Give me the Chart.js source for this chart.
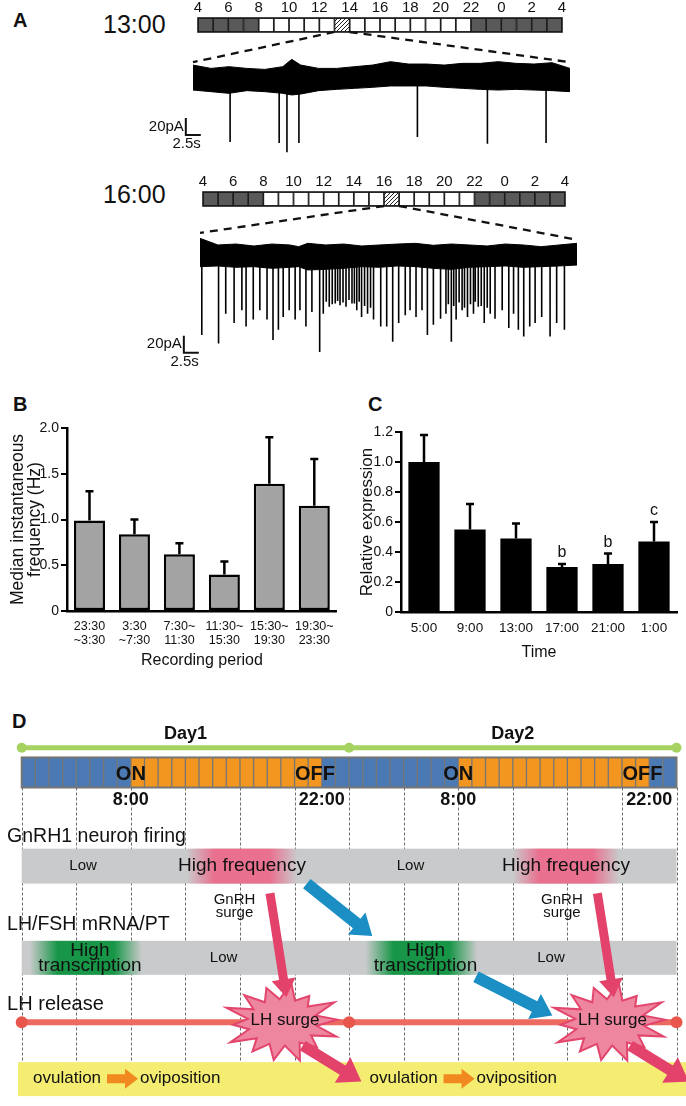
<!DOCTYPE html>
<html>
<head>
<meta charset="utf-8">
<script src="https://cdn.jsdelivr.net/npm/chart.js@4.4.1/dist/chart.umd.min.js"></script>
<style>
  body { margin: 0; background: #fff; }
  #page { position: relative; width: 686px; height: 1106px; overflow: hidden; background: #fff;
          font-family: 'Liberation Sans', Arial, sans-serif; color: #111; }
  canvas { position: absolute; }
  .panel { position: absolute; font-weight: bold; font-size: 20px; line-height: 20px; }
  .rec { position: absolute; font-size: 25px; line-height: 25px; }
</style>
</head>
<body>
<div id="page">
  <div class="panel" style="left:13px;top:10px">A</div>
  <div class="rec" style="left:103px;top:12px">13:00</div>
  <div class="rec" style="left:103px;top:182px">16:00</div>
  <div class="panel" style="left:13px;top:394px">B</div>
  <div class="panel" style="left:368px;top:394px">C</div>
  <div class="panel" style="left:12px;top:711px">D</div>

  <canvas id="tl1" width="384" height="33" style="left:188px;top:0px"></canvas>
  <canvas id="tr1" width="450" height="134" style="left:140px;top:30px"></canvas>
  <canvas id="tl2" width="382" height="33" style="left:193px;top:174px"></canvas>
  <canvas id="tr2" width="450" height="162" style="left:140px;top:205px"></canvas>
  <canvas id="chartB" width="343" height="300" style="left:0px;top:390px"></canvas>
  <canvas id="chartC" width="343" height="300" style="left:343px;top:390px"></canvas>
  <canvas id="chartD" width="686" height="406" style="left:0px;top:700px"></canvas>
</div>

<script>
/*
 * 1. DATA
 */
// A: 24 h light schedule bars (one cell per hour, starting at 4:00)
const dayStartHour = 4;
const barTickLabels = ['4', '6', '8', '10', '12', '14', '16', '18', '20', '22', '0', '2', '4'];
const lightsOn = 8;
const lightsOff = 22;
const recordingHours = [13, 16];

// A: current traces (time in s, current in pA relative to baseline)
const envT = [0, 3, 6, 9, 12, 15, 16.5, 18, 21, 24, 27, 30, 33, 36, 39, 42, 45, 48, 51, 54, 57, 60, 63];
const trace1Upper = [17.6, 13.7, 15.7, 13.7, 12.5, 15.7, 24.3, 17.6, 13.7, 13.7, 15.7, 17.6, 21.6, 18.8, 18.8, 17.6, 19.6, 19.6, 21.6, 19.6, 18.8, 20.4, 13.7];
const trace1Lower = [-11.8, -13.7, -15.7, -12.5, -13.7, -15.7, -17.6, -16.5, -12.5, -11, -9.8, -8.6, -7, -7, -7, -8.6, -9.8, -11, -11.8, -11, -11.8, -12.5, -13.7];
const trace1SpikeT = [6.2, 14.4, 15.7, 17.7, 37.5, 49.2, 59.0];
const trace1SpikeAmp = [73, 74, 85, 74, 67, 75, 74];

const trace2Upper = [19.6, 11.8, 12.9, 10.6, 12.9, 11.8, 9.8, 13.7, 11.8, 12.9, 10.6, 11.8, 12.9, 13.7, 11.4, 12.9, 11.8, 10.6, 12.9, 11.8, 9.8, 11.8, 13.7];
const trace2Lower = [-13.7, -12.9, -14.5, -13.7, -15.7, -14.5, -13.7, -17.6, -16.9, -15.7, -13.7, -14.5, -12.9, -13.7, -15.7, -16.9, -14.5, -13.7, -12.9, -14.5, -13.7, -12.9, -11.8];
const trace2SpikeT = [0.3, 3.1, 4.3, 5.7, 7.0, 7.7, 8.9, 10.0, 11.2, 12.2, 13.1, 13.9, 14.9, 15.9, 16.7, 17.7, 18.7, 20.0, 20.6, 21.6,
  22.6, 23.4, 24.4, 25.4, 26.2, 27.0, 28.0, 29.0, 30.2, 31.2, 32.2, 33.2, 34.3, 35.1, 36.1, 37.1, 38.0, 39.0, 40.2, 41.1,
  42.0, 42.8, 43.8, 44.7, 45.7, 46.5, 47.5, 48.5, 49.3, 50.5, 51.6, 52.4, 53.2, 54.1, 55.1, 56.0, 57.1, 58.5, 59.6, 60.9,
  21.1, 22.1, 23.0, 23.9, 24.9, 25.8, 26.6, 27.5, 28.5, 41.5, 42.4, 43.3, 44.2, 45.2, 46.0, 47.0, 48.0];
const trace2SpikeAmp = [94, 104, 69, 80, 65, 84, 76, 65, 76, 100, 88, 73, 65, 76, 65, 84, 67, 114, 69, 61,
  57, 59, 61, 57, 65, 73, 69, 76, 84, 84, 102, 80, 71, 65, 73, 65, 94, 82, 75, 69,
  102, 76, 65, 73, 69, 61, 80, 69, 75, 65, 86, 69, 88, 96, 84, 80, 73, 96, 80, 88,
  55, 58, 54, 56, 53, 57, 55, 60, 62, 58, 60, 56, 62, 58, 55, 60, 62];

// B: firing frequency
const periodLabels = [['23:30', '~3:30'], ['3:30', '~7:30'], ['7:30~', '11:30'], ['11:30~', '15:30'], ['15:30~', '19:30'], ['19:30~', '23:30']];
const freqMean = [0.99, 0.84, 0.62, 0.40, 1.39, 1.15];
const freqErr = [0.32, 0.16, 0.12, 0.14, 0.51, 0.51];

// C: relative expression
const timeLabels = ['5:00', '9:00', '13:00', '17:00', '21:00', '1:00'];
const exprMean = [1.0, 0.55, 0.49, 0.30, 0.32, 0.47];
const exprErr = [0.18, 0.17, 0.10, 0.02, 0.07, 0.13];
const exprMarks = ['', '', '', 'b', 'b', 'c'];

// D: two-day schematic (hours from 0:00 of Day1)
const dayBounds = [0, 24, 48];
const dayNames = ['Day1', 'Day2'];
const clockHours = [8, 22, 32, 46];
const clockLabels = ['8:00', '22:00', '8:00', '22:00'];
const firingHigh = [[12.1, 20.2], [36.0, 43.8]];
const transcriptionHigh = [[0.6, 8.8], [25.2, 33.4]];
const lhSurgeHours = [19.1, 43.1];

/*
 * 2. COMMON SETTINGS
 */
const SANS = "'Liberation Sans', Arial, sans-serif";
Chart.defaults.animation = false;
Chart.defaults.responsive = false;
Chart.defaults.font.family = SANS;
Chart.defaults.color = '#111';
Chart.defaults.plugins.legend.display = false;
Chart.defaults.plugins.tooltip.enabled = false;

/*
 * 3. PANEL A
 */
function hatchPattern(ctx) {
  const c = document.createElement('canvas');
  c.width = 4; c.height = 4;
  const g = c.getContext('2d');
  g.fillStyle = '#fff';
  g.fillRect(0, 0, 4, 4);
  g.strokeStyle = '#222';
  g.lineWidth = 1;
  g.beginPath();
  g.moveTo(-1, 5); g.lineTo(5, -1);
  g.stroke();
  return ctx.createPattern(c, 'repeat');
}

const outlinePlugin = {
  id: 'outline',
  afterDatasetsDraw(chart) {
    const { ctx, chartArea: a } = chart;
    ctx.save();
    ctx.strokeStyle = '#1a1a1a';
    ctx.lineWidth = 1.6;
    ctx.strokeRect(a.left, a.top, a.right - a.left, a.bottom - a.top);
    ctx.restore();
  }
};

function makeTimeline(id, recHour) {
  const canvas = document.getElementById(id);
  const pattern = hatchPattern(canvas.getContext('2d'));
  const datasets = [];
  for (let i = 0; i < 24; i++) {
    const h = (dayStartHour + i) % 24;
    let fill = (h >= lightsOn && h < lightsOff) ? '#ffffff' : '#595959';
    if (h === recHour) fill = pattern;
    datasets.push({ data: [1], backgroundColor: fill, borderColor: '#1e1e1e', borderWidth: 1.2, borderSkipped: false });
  }
  return new Chart(canvas, {
    type: 'bar',
    data: { labels: [''], datasets },
    options: {
      indexAxis: 'y',
      layout: { padding: { left: 10, right: 10, top: 0, bottom: 1 } },
      datasets: { bar: { barPercentage: 1, categoryPercentage: 1 } },
      scales: {
        x: {
          stacked: true, min: 0, max: 24, position: 'top',
          grid: { display: false, drawTicks: false }, border: { display: false },
          ticks: { stepSize: 2, autoSkip: false, maxRotation: 0, padding: 1, font: { size: 15 },
                   callback: v => barTickLabels[v / 2] },
          afterFit: s => { s.height = 18; }
        },
        y: { stacked: true, display: false }
      }
    },
    plugins: [outlinePlugin]
  });
}

// dashed zoom lines + scale bars
const traceDecoPlugin = {
  id: 'traceDeco',
  afterDraw(chart, args, o) {
    const { ctx, chartArea: a, scales: { x, y } } = chart;
    const tl = o.timeline;
    const dx = tl.canvas.offsetLeft - chart.canvas.offsetLeft;
    const dy = tl.canvas.offsetTop + tl.chartArea.bottom - chart.canvas.offsetTop;
    const cell = (o.recHour - dayStartHour + 24) % 24;
    ctx.save();
    ctx.strokeStyle = '#111';
    ctx.lineWidth = 2.3;
    ctx.setLineDash([8, 6]);
    ctx.beginPath();
    ctx.moveTo(tl.scales.x.getPixelForValue(cell) + dx, dy);
    ctx.lineTo(a.left, y.getPixelForValue(o.dashEnd[0]));
    ctx.moveTo(tl.scales.x.getPixelForValue(cell + 1) + dx, dy);
    ctx.lineTo(a.right, y.getPixelForValue(o.dashEnd[1]));
    ctx.stroke();
    ctx.setLineDash([]);
    // 20 pA / 2.5 s scale bar
    const sx = x.getPixelForValue(o.barT), ex = x.getPixelForValue(o.barT + 2.5);
    const y0 = y.getPixelForValue(o.barPA), y1 = y.getPixelForValue(o.barPA + 20);
    ctx.lineWidth = 2;
    ctx.beginPath();
    ctx.moveTo(sx, y1); ctx.lineTo(sx, y0); ctx.lineTo(ex, y0);
    ctx.stroke();
    ctx.fillStyle = '#111';
    ctx.font = '15px ' + SANS;
    ctx.textAlign = 'right';
    ctx.textBaseline = 'middle';
    ctx.fillText('20pA', sx - 2, (y0 + y1) / 2);
    ctx.fillText('2.5s', ex, y0 + 9);
    ctx.restore();
  }
};

function makeTrace(id, upper, lower, spikeT, spikeAmp, yRange, padding, deco) {
  const spikes = [];
  spikeT.forEach((t, i) => {
    spikes.push({ x: t, y: 0 }, { x: t, y: -spikeAmp[i] }, { x: t, y: null });
  });
  return new Chart(document.getElementById(id), {
    type: 'line',
    data: {
      datasets: [
        { data: envT.map((t, i) => ({ x: t, y: upper[i] })), borderColor: '#000', borderWidth: 1,
          backgroundColor: '#000', fill: '+1', pointRadius: 0, tension: 0 },
        { data: envT.map((t, i) => ({ x: t, y: lower[i] })), borderColor: '#000', borderWidth: 1,
          fill: false, pointRadius: 0, tension: 0 },
        { data: spikes, borderColor: '#000', borderWidth: 1.6, pointRadius: 0, spanGaps: false, fill: false }
      ]
    },
    options: {
      layout: { padding },
      scales: {
        x: { type: 'linear', min: 0, max: 63, display: false },
        y: { min: yRange[0], max: yRange[1], display: false }
      },
      plugins: { traceDeco: deco }
    },
    plugins: [traceDecoPlugin]
  });
}

const tl1 = makeTimeline('tl1', recordingHours[0]);
const tl2 = makeTimeline('tl2', recordingHours[1]);
makeTrace('tr1', trace1Upper, trace1Lower, trace1SpikeT, trace1SpikeAmp, [-96.5, 47.1],
  { left: 53, right: 20, top: 10, bottom: 2 },
  { timeline: tl1, recHour: recordingHours[0], dashEnd: [21, 21], barT: -1.2, barPA: -64.7 });
makeTrace('tr2', trace2Upper, trace2Lower, trace2SpikeT, trace2SpikeAmp, [-125.9, 35.3],
  { left: 60, right: 13, top: 20, bottom: 5 },
  { timeline: tl2, recHour: recordingHours[1], dashEnd: [26, 18], barT: -2.7, barPA: -115 });

/*
 * 4. PANELS B AND C
 */
const errorBarPlugin = {
  id: 'errorBars',
  afterDatasetsDraw(chart) {
    const { ctx, scales: { y } } = chart;
    const ds = chart.data.datasets[0];
    const meta = chart.getDatasetMeta(0);
    ctx.save();
    ctx.strokeStyle = '#000';
    ctx.lineWidth = 2.5;
    ctx.fillStyle = '#111';
    ctx.font = '16px ' + SANS;
    ctx.textAlign = 'center';
    ctx.textBaseline = 'middle';
    ds.data.forEach((v, i) => {
      const bx = meta.data[i].x;
      const base = y.getPixelForValue(v);
      const top = y.getPixelForValue(v + ds.errors[i]);
      ctx.beginPath();
      ctx.moveTo(bx, base); ctx.lineTo(bx, top);
      ctx.moveTo(bx - 4, top); ctx.lineTo(bx + 4, top);
      ctx.stroke();
      if (ds.marks && ds.marks[i]) ctx.fillText(ds.marks[i], bx, top - 11);
    });
    ctx.restore();
  }
};

function barOptions(o) {
  return {
    layout: { padding: o.padding },
    datasets: { bar: { barPercentage: o.barPct, categoryPercentage: 1 } },
    scales: {
      x: {
        grid: { display: false, drawTicks: false },
        border: { color: '#000', width: 2.5 },
        ticks: { autoSkip: false, maxRotation: 0, padding: o.tickPad, font: { size: o.xFont, lineHeight: 1.1 } },
        title: { display: true, text: o.xTitle, font: { size: 16 }, padding: { top: 0, bottom: o.xTitlePad } },
        afterFit: s => { s.height = o.xHeight; }
      },
      y: {
        min: 0, max: o.yMax,
        grid: { display: true, drawOnChartArea: false, drawTicks: true, tickLength: 6, color: '#000', lineWidth: 2 },
        border: { color: '#000', width: 2.5 },
        ticks: { stepSize: o.yStep, padding: 2, font: { size: 14 },
                 callback: v => v === 0 ? '0' : v.toFixed(1) },
        title: { display: true, text: o.yTitle, font: { size: o.yTitleSize, lineHeight: o.yTitleLH },
                 padding: { top: o.yTitlePad, bottom: 0 } },
        afterFit: s => { s.width = o.yWidth; }
      }
    }
  };
}

new Chart(document.getElementById('chartB'), {
  type: 'bar',
  data: {
    labels: periodLabels,
    datasets: [{ data: freqMean, errors: freqErr, backgroundColor: '#a3a3a3', borderColor: '#000',
                 borderWidth: 2.5, borderSkipped: false }]
  },
  options: barOptions({
    padding: { left: 0, right: 5, top: 38, bottom: 0 }, barPct: 0.69,
    xTitle: 'Recording period', xTitlePad: 20, xHeight: 79, xFont: 12.5, tickPad: 9,
    yMax: 2, yStep: 0.5, yTitle: ['Median instantaneous', 'frequency (Hz)'], yTitleSize: 17.5, yTitleLH: 0.95,
    yTitlePad: 10, yWidth: 67
  }),
  plugins: [errorBarPlugin]
});

new Chart(document.getElementById('chartC'), {
  type: 'bar',
  data: {
    labels: timeLabels,
    datasets: [{ data: exprMean, errors: exprErr, marks: exprMarks, backgroundColor: '#000', borderWidth: 0 }]
  },
  options: barOptions({
    padding: { left: 0, right: 9, top: 42, bottom: 0 }, barPct: 0.68,
    xTitle: 'Time', xTitlePad: 28, xHeight: 78, xFont: 13.5, tickPad: 9,
    yMax: 1.2, yStep: 0.2, yTitle: 'Relative expression', yTitleSize: 17, yTitleLH: 1.2, yTitlePad: 14, yWidth: 58
  }),
  plugins: [errorBarPlugin]
});

/*
 * 5. PANEL D (schematic on an hour scale)
 */
// vertical layout rows (canvas px through the y scale)
const ROW = { dayText: 29, day: 43, barTop: 53, barBot: 84, clock: 97, firing: 135, band1: [147, 183],
              surge: [200, 213], mrna: 225, band2: [242, 277], lhText: 308, lh: 326, yellow: [367, 402], ovul: 384 };
const BLUE = '#4b79b3', ORANGE = '#f2961f', GREY = '#c9cacb';

function txt(ctx, s, x, y, font, align) {
  ctx.font = font + ' ' + SANS;
  ctx.textAlign = align || 'center';
  ctx.textBaseline = 'middle';
  ctx.fillStyle = '#111';
  ctx.fillText(s, x, y);
}

function glow(ctx, x0, x1, y0, y1, rgb) {
  const g = ctx.createLinearGradient(x0, 0, x1, 0);
  g.addColorStop(0, 'rgba(' + rgb + ',0)');
  g.addColorStop(0.25, 'rgba(' + rgb + ',1)');
  g.addColorStop(0.75, 'rgba(' + rgb + ',1)');
  g.addColorStop(1, 'rgba(' + rgb + ',0)');
  ctx.fillStyle = g;
  ctx.fillRect(x0, y0, x1 - x0, y1 - y0);
}

function arrow(ctx, x0, y0, x1, y1, w, headW, headL, color) {
  const ang = Math.atan2(y1 - y0, x1 - x0);
  const len = Math.hypot(x1 - x0, y1 - y0);
  ctx.save();
  ctx.translate(x0, y0);
  ctx.rotate(ang);
  ctx.fillStyle = color;
  ctx.beginPath();
  ctx.moveTo(0, -w / 2);
  ctx.lineTo(len - headL, -w / 2);
  ctx.lineTo(len - headL, -headW / 2);
  ctx.lineTo(len, 0);
  ctx.lineTo(len - headL, headW / 2);
  ctx.lineTo(len - headL, w / 2);
  ctx.lineTo(0, w / 2);
  ctx.closePath();
  ctx.fill();
  ctx.restore();
}

const starShape = [1, 0.8, 1, 0.92, 0.97, 0.85, 1, 0.95, 0.88, 1, 0.82, 1, 0.93, 0.9];
function star(ctx, cx, cy, rx, ry) {
  const n = starShape.length;
  ctx.beginPath();
  for (let i = 0; i < 2 * n; i++) {
    const a = -Math.PI / 2 + 0.15 + i * Math.PI / n;
    const r = i % 2 ? 0.58 : starShape[i / 2];
    ctx.lineTo(cx + Math.cos(a) * rx * r, cy + Math.sin(a) * ry * r);
  }
  ctx.closePath();
  ctx.fillStyle = '#ef86a0';
  ctx.fill();
  ctx.strokeStyle = '#e2466d';
  ctx.lineWidth = 2;
  ctx.stroke();
}

const schematicPlugin = {
  id: 'schematic',
  beforeDatasetsDraw(chart) {
    const { ctx, scales: { x, y } } = chart;
    const X = h => x.getPixelForValue(h), Y = r => y.getPixelForValue(r);
    ctx.save();
    // day titles
    dayNames.forEach((d, i) => txt(ctx, d, X((dayBounds[i] + dayBounds[i + 1]) / 2), Y(ROW.dayText), 'bold 18px'));
    // dashed guides every 4 h
    ctx.strokeStyle = '#6b6b6b';
    ctx.lineWidth = 1;
    ctx.setLineDash([3, 2]);
    for (let h = 0; h <= 48; h += 4) {
      ctx.beginPath();
      ctx.moveTo(Math.round(X(h)) + 0.5, Y(ROW.barBot));
      ctx.lineTo(Math.round(X(h)) + 0.5, Y(ROW.yellow[0]));
      ctx.stroke();
    }
    ctx.setLineDash([]);
    // light schedule bar, one cell per hour
    for (let h = 0; h < 48; h++) {
      const hh = h % 24;
      ctx.fillStyle = (hh >= lightsOn && hh < lightsOff) ? ORANGE : BLUE;
      ctx.fillRect(X(h), Y(ROW.barTop), X(h + 1) - X(h), Y(ROW.barBot) - Y(ROW.barTop));
    }
    ctx.strokeStyle = '#767676';
    ctx.lineWidth = 1.3;
    ctx.beginPath();
    for (let h = 1; h < 48; h++) {
      ctx.moveTo(X(h), Y(ROW.barTop));
      ctx.lineTo(X(h), Y(ROW.barBot));
    }
    ctx.stroke();
    ctx.lineWidth = 2;
    ctx.strokeRect(X(0), Y(ROW.barTop), X(48) - X(0), Y(ROW.barBot) - Y(ROW.barTop));
    const mid = (Y(ROW.barTop) + Y(ROW.barBot)) / 2 + 2;
    [0, 24].forEach(d => {
      txt(ctx, 'ON', X(d + lightsOn), mid, 'bold 20px');
      txt(ctx, 'OFF', X(d + lightsOff - 0.5), mid, 'bold 20px');
    });
    clockHours.forEach((h, i) => txt(ctx, clockLabels[i], X(h), Y(ROW.clock), 'bold 18px'));
    // row titles
    txt(ctx, 'GnRH1 neuron firing', X(-1.07), Y(ROW.firing), '19.5px', 'left');
    txt(ctx, 'LH/FSH mRNA/PT', X(-1.07), Y(ROW.mrna), '19.5px', 'left');
    txt(ctx, 'LH release', X(-1.07), Y(ROW.lhText), '20px', 'left');
    // grey bands with highlighted periods
    [ROW.band1, ROW.band2].forEach(b => {
      ctx.fillStyle = GREY;
      ctx.fillRect(X(0), Y(b[0]), X(48) - X(0), Y(b[1]) - Y(b[0]));
    });
    firingHigh.forEach(s => glow(ctx, X(s[0]), X(s[1]), Y(ROW.band1[0]), Y(ROW.band1[1]), '233,112,143'));
    transcriptionHigh.forEach(s => glow(ctx, X(s[0]), X(s[1]), Y(ROW.band2[0]), Y(ROW.band2[1]), '22,150,70'));
    const b1 = (Y(ROW.band1[0]) + Y(ROW.band1[1])) / 2, b2 = (Y(ROW.band2[0]) + Y(ROW.band2[1])) / 2;
    firingHigh.forEach((s, i) => {
      txt(ctx, 'High frequency', X((s[0] + s[1]) / 2), b1, '19px');
      txt(ctx, 'Low', X(dayBounds[i] + 4.5), b1, '15px');
    });
    transcriptionHigh.forEach((s, i) => {
      txt(ctx, 'High', X((s[0] + s[1]) / 2 + 0.3), b2 - 7, '19px');
      txt(ctx, 'transcription', X((s[0] + s[1]) / 2 + 0.3), b2 + 8, '19px');
      txt(ctx, 'Low', X(dayBounds[i] + 14.8), b2, '15px');
    });
    lhSurgeHours.forEach(h => {
      txt(ctx, 'GnRH', X(h - 3.5), Y(ROW.surge[0]), '15px');
      txt(ctx, 'surge', X(h - 3.5), Y(ROW.surge[1]), '15px');
    });
    // ovulation band
    ctx.fillStyle = '#f4ed72';
    ctx.fillRect(X(-0.27), Y(ROW.yellow[0]), chart.width - X(-0.27), Y(ROW.yellow[1]) - Y(ROW.yellow[0]));
    [0.83, 25.5].forEach(h => {
      const x0 = X(h);
      txt(ctx, 'ovulation', x0, Y(ROW.ovul), '17px', 'left');
      arrow(ctx, x0 + 74, Y(ROW.ovul), x0 + 105, Y(ROW.ovul), 9, 20, 13, '#f0891f');
      txt(ctx, 'oviposition', x0 + 107, Y(ROW.ovul), '17px', 'left');
    });
    ctx.restore();
  },
  afterDatasetsDraw(chart) {
    const { ctx, scales: { x, y } } = chart;
    const X = h => x.getPixelForValue(h), Y = r => y.getPixelForValue(r);
    ctx.save();
    lhSurgeHours.forEach(h => star(ctx, X(h), Y(ROW.lh), 60, 40));
    // blue: firing -> transcription -> LH surge
    arrow(ctx, X(20.9), Y(183), X(25.7), Y(237), 12, 28, 20, '#1b8ec4');
    arrow(ctx, X(33.3), Y(279), X(38.9), Y(319), 12, 28, 20, '#1b8ec4');
    lhSurgeHours.forEach(h => {
      arrow(ctx, X(h - 0.9), Y(193), X(h + 0.3), Y(300), 9, 24, 18, '#e3436b');
      arrow(ctx, X(h + 1.5), Y(350), X(h + 5.8), Y(387), 11, 30, 22, '#e3436b');
      txt(ctx, 'LH surge', X(h + 0.2), Y(ROW.lh - 2), '17px');
    });
    ctx.restore();
  }
};

new Chart(document.getElementById('chartD'), {
  type: 'line',
  data: {
    datasets: [
      { data: dayBounds.map(h => ({ x: h, y: ROW.day })), borderColor: '#a6d262', borderWidth: 5,
        pointRadius: 5, pointBackgroundColor: '#a6d262', pointBorderWidth: 0, clip: false },
      { data: dayBounds.map(h => ({ x: h, y: ROW.lh })), borderColor: '#ec6a5f', borderWidth: 6,
        pointRadius: 6, pointBackgroundColor: '#e8564c', pointBorderWidth: 0, clip: false }
    ]
  },
  options: {
    layout: { padding: { left: 21.7, right: 9.5, top: 0, bottom: 0 } },
    scales: {
      x: { type: 'linear', min: 0, max: 48, display: false },
      y: { min: 0, max: 406, reverse: true, display: false }
    }
  },
  plugins: [schematicPlugin]
});
</script>
</body>
</html>
